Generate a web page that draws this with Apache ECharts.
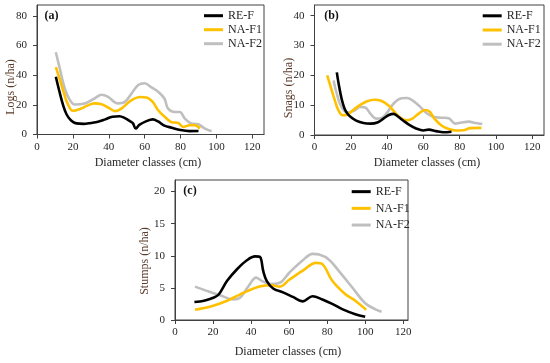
<!DOCTYPE html>
<html>
<head>
<meta charset="utf-8">
<script src="https://cdn.jsdelivr.net/npm/echarts@6/dist/echarts.min.js"></script>
<style>
html,body{margin:0;padding:0;background:#fff;}
#chart{width:550px;height:363px;}
</style>
</head>
<body>
<div id="chart"></div>
<script>
// ---------- DATA ----------
const seriesNames = ['RE-F', 'NA-F1', 'NA-F2'];
const xTicks = [0, 20, 40, 60, 80, 100, 120];
const logsTicks = [0, 20, 40, 60, 80];
const snagsTicks = [0, 10, 20, 30, 40];
const stumpsTicks = [0, 5, 10, 15, 20];

// (a) Logs
const logsREFx = [10.5, 12.5, 14.5, 16.5, 19, 22, 26, 30, 34, 38, 42, 46, 49, 52, 53.5, 55, 57, 61, 64.5, 67.5, 71, 75, 80, 85, 90];
const logsREFy = [39, 29, 20, 13.5, 9.5, 7.5, 7.2, 7.8, 8.6, 10.2, 12, 12.3, 11, 8.8, 7.5, 4, 6.5, 9, 10.2, 8.8, 6, 4.6, 3, 2.3, 2.4];
const logsNAF1x = [10.5, 13, 15, 17, 20, 24.5, 28, 32, 36, 40, 43.5, 47, 52.5, 57.5, 61, 64.5, 67.5, 71.3, 75, 78.7, 81.5, 85, 88, 90.8];
const logsNAF1y = [45.5, 36, 28, 21, 16, 17.5, 19.5, 21, 20.4, 18, 15.8, 17.5, 23, 25.3, 25, 22, 16.4, 11.8, 8.3, 7.8, 5.1, 6.2, 6.2, 4];
const logsNAF2x = [10.5, 13, 15, 17.5, 21, 26.5, 32, 36, 39.6, 45, 49, 52.7, 56.4, 60, 63.8, 67.5, 71, 73, 76.8, 79.6, 82.4, 86, 89.9, 93.6, 97.3];
const logsNAF2y = [55.5, 43, 33, 25, 20.2, 20.9, 24.3, 26.8, 25.4, 21, 22, 27.7, 33.4, 34.6, 31.8, 28.9, 24.3, 17.5, 15.2, 15.2, 10.7, 7.4, 6.9, 4, 2.2];

// (b) Snags
const snagsREFx = [12.3, 13.5, 15, 16.5, 18, 20, 23, 27, 31, 35, 38, 41, 43.5, 46, 49, 52, 56, 60, 63, 67, 71, 75.5];
const snagsREFy = [21, 16.5, 12, 9, 7.3, 6, 4.8, 4, 3.8, 4.3, 5.5, 6.7, 7.1, 6.2, 4.8, 3.5, 2.2, 1.5, 1.8, 1.3, 0.9, 1.1];
const snagsNAF1x = [7, 9, 11, 13, 15.5, 18, 21, 25, 29, 33, 37, 41, 44, 47, 50.5, 54, 57, 61, 63.5, 66, 70, 74, 78, 82, 86, 92];
const snagsNAF1y = [20, 16, 12, 8.5, 6.6, 6.8, 8.2, 10, 11.3, 11.8, 11.4, 9.8, 7.8, 6, 4.9, 5.5, 7, 8.4, 7.8, 5.6, 3.2, 2, 1.5, 1.6, 2.3, 2.4];
const snagsNAF2x = [10.5, 12, 14, 16.5, 19, 22, 25, 28, 31, 34, 37, 40, 44, 48, 51, 54, 58, 62, 66, 70, 74, 77.5, 81, 85, 89, 92.5];
const snagsNAF2y = [18.3, 14.5, 10.5, 8, 7.6, 8.2, 9.4, 9.2, 7, 5.5, 5.7, 7.5, 10.8, 12.3, 12.4, 11.6, 9.6, 7.2, 6, 5.8, 5.6, 3.8, 4.2, 4.5, 4, 3.7];

// (c) Stumps
const stumpsREFx = [10.2, 15.3, 20.5, 23.1, 27.4, 32.6, 37.8, 42.1, 44.7, 46.4, 48.2, 51.6, 56.8, 62, 67.2, 72.3, 77.5, 82.7, 87.9, 94.8, 100];
const stumpsREFy = [2.8, 3.0, 3.5, 4.0, 6.1, 7.9, 9.3, 9.9, 9.8, 7.6, 6.1, 4.9, 4.3, 3.6, 2.9, 3.7, 3.2, 2.5, 1.7, 0.9, 0.5];
const stumpsNAF1x = [10.5, 18.8, 27.4, 34.3, 40.4, 45.6, 50.7, 55.1, 60.2, 67.2, 74.1, 77.5, 82.7, 89.6, 94.8, 100.5];
const stumpsNAF1y = [1.6, 2.1, 3.0, 4.0, 4.8, 5.3, 5.4, 5.2, 6.3, 7.7, 8.9, 8.7, 6.1, 4.0, 3.0, 1.6];
const stumpsNAF2x = [10.5, 17.1, 24, 30.9, 34.3, 38.7, 42.6, 45.6, 49.9, 55.1, 60.2, 67.2, 72.3, 75.8, 81, 86.2, 93.1, 100, 105.1, 108.6];
const stumpsNAF2y = [5.2, 4.5, 3.8, 3.2, 3.5, 5.3, 6.6, 6.1, 5.6, 5.8, 7.4, 9.3, 10.3, 10.2, 9.4, 7.6, 5.1, 2.6, 1.7, 1.3];

// ---------- BUILD ----------
const colors = {'RE-F': '#000000', 'NA-F1': '#FFC000', 'NA-F2': '#BFBFBF'};
const zip = (xs, ys) => xs.map((x, i) => [x, ys[i]]);
const serif = '"Liberation Serif", "DejaVu Serif", serif';
const axisColor = '#404040';
const labelColor = '#262626';
const titleColor = '#5a3b2a';

const grids = [
  {left: 37, top: 5, width: 227, height: 129.5},
  {left: 314.5, top: 5, width: 229.5, height: 130},
  {left: 175, top: 180, width: 233, height: 140}
];
const yMax = [87.4, 43.6, 21.8];
const xMax = [126.5, 126.5, 122.5];
const yTicksArr = [logsTicks, snagsTicks, stumpsTicks];

const panelData = [
  [zip(logsREFx, logsREFy), zip(logsNAF1x, logsNAF1y), zip(logsNAF2x, logsNAF2y)],
  [zip(snagsREFx, snagsREFy), zip(snagsNAF1x, snagsNAF1y), zip(snagsNAF2x, snagsNAF2y)],
  [zip(stumpsREFx, stumpsREFy), zip(stumpsNAF1x, stumpsNAF1y), zip(stumpsNAF2x, stumpsNAF2y)]
];

const xAxes = grids.map((g, i) => ({
  type: 'value', gridIndex: i, min: 0, max: xMax[i],
  axisLine: {show: true, lineStyle: {color: axisColor, width: 1}},
  axisTick: {show: true, length: 4, inside: false, customValues: xTicks, lineStyle: {color: axisColor}},
  axisLabel: {customValues: xTicks, margin: 7, fontFamily: serif, fontSize: 11, color: labelColor},
  splitLine: {show: false}
}));
const yAxes = grids.map((g, i) => ({
  type: 'value', gridIndex: i, min: 0, max: yMax[i],
  axisLine: {show: true, lineStyle: {color: axisColor, width: 1}},
  axisTick: {show: true, length: 4, inside: false, customValues: yTicksArr[i], lineStyle: {color: axisColor}},
  axisLabel: {customValues: yTicksArr[i], margin: 10, fontFamily: serif, fontSize: 11, color: labelColor},
  splitLine: {show: false}
}));

const series = [];
panelData.forEach((sets, p) => {
  sets.forEach((d, k) => {
    const name = seriesNames[k];
    series.push({
      type: 'line', name: name, xAxisIndex: p, yAxisIndex: p,
      data: d, smooth: 0.35, showSymbol: false, symbol: 'none',
      lineStyle: {color: colors[name], width: 2.6},
      itemStyle: {color: colors[name]},
      z: 3 - k
    });
  });
});

const legendPos = [
  {left: 204, top: 8.7, lh: 14},
  {left: 482.7, top: 8.7, lh: 14.2},
  {left: 351.7, top: 183.3, lh: 16.7}
];
const legends = legendPos.map(lp => ({
  orient: 'vertical', left: lp.left, top: lp.top, padding: 0, itemGap: 0,
  icon: 'rect', itemWidth: 19, itemHeight: 3,
  data: seriesNames, selectedMode: false,
  textStyle: {fontFamily: serif, fontSize: 12, color: labelColor, lineHeight: lp.lh}
}));

const txt = (x, y, text, opts) => Object.assign({
  type: 'text', x: x, y: y,
  style: Object.assign({text: text, font: '12px ' + serif, fill: labelColor, align: 'center', verticalAlign: 'middle'}, opts && opts.style || {})
}, opts && opts.rot ? {rotation: Math.PI / 2} : {});

const graphics = [
  txt(51.5, 15.7, '(a)', {style: {font: 'bold 12px ' + serif, fill: '#111'}}),
  txt(331.5, 15.7, '(b)', {style: {font: 'bold 12px ' + serif, fill: '#111'}}),
  txt(190, 191, '(c)', {style: {font: 'bold 12px ' + serif, fill: '#111'}}),
  txt(148, 163, 'Diameter classes (cm)'),
  txt(427, 163, 'Diameter classes (cm)'),
  txt(288, 351.5, 'Diameter classes (cm)'),
  txt(10.5, 87, 'Logs (n/ha)', {rot: true, style: {fill: titleColor}}),
  txt(288.5, 88, 'Snags (n/ha)', {rot: true, style: {fill: titleColor}}),
  txt(145, 261, 'Stumps (n/ha)', {rot: true, style: {fill: titleColor}})
];

const chart = echarts.init(document.getElementById('chart'), null, {renderer: 'canvas'});
chart.setOption({
  animation: false,
  backgroundColor: '#ffffff',
  grid: grids.map(g => Object.assign({show: true, borderColor: axisColor, borderWidth: 1, backgroundColor: 'transparent', containLabel: false}, g)),
  xAxis: xAxes,
  yAxis: yAxes,
  legend: legends,
  series: series,
  graphic: graphics
});
</script>
</body>
</html>
